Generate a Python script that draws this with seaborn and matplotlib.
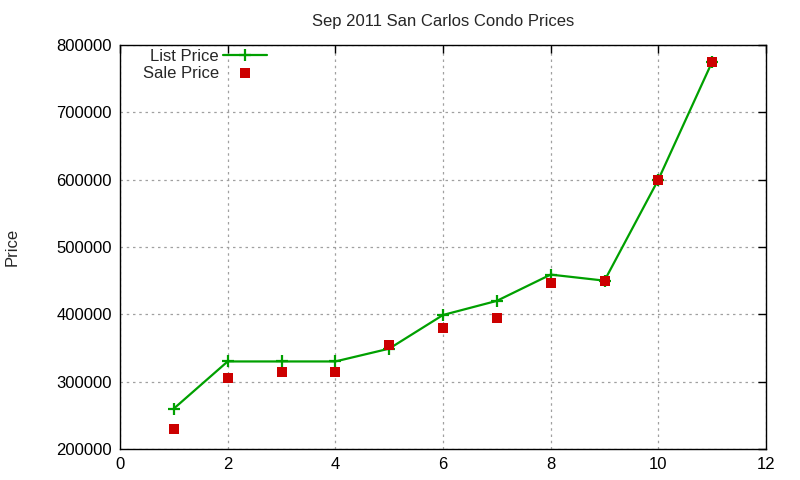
import numpy as np
import pandas as pd
import matplotlib
matplotlib.use("Agg")
import matplotlib.pyplot as plt
import seaborn as sns

# Data
units = [1, 2, 3, 4, 5, 6, 7, 8, 9, 10, 11]
list_price = [260000, 330000, 330000, 330000, 349000, 399000, 420000, 459000, 450000, 600000, 775000]
sale_price = [230000, 306000, 315000, 315000, 355000, 380000, 395000, 447000, 450000, 600000, 775000]

df = pd.DataFrame({"n": units, "list": list_price, "sale": sale_price})

sns.set_style("white")
plt.rcParams["font.family"] = ["Liberation Sans", "DejaVu Sans"]

fig = plt.figure(figsize=(8, 4.8), dpi=100)
ax = fig.add_axes([0.15, 0.0646, 0.8075, 0.8417])

green = "#00a000"
sns.lineplot(data=df, x="n", y="list", ax=ax, color=green, linewidth=1.6,
             marker="+", markersize=9, markeredgewidth=1.6,
             markeredgecolor=green, label="List Price")
sns.scatterplot(data=df, x="n", y="sale", ax=ax, color="#cc0000", marker="s",
                s=45, linewidth=0, label="Sale Price", zorder=3)

ax.set_xlim(0, 12)
ax.set_ylim(200000, 800000)
ax.set_xticks(np.arange(0, 13, 2))
ax.set_yticks(np.arange(200000, 800001, 100000))
ax.ticklabel_format(style="plain", axis="y")

ax.grid(True, color="#a0a0a0", linestyle=(0, (2, 3)), linewidth=0.9)
ax.tick_params(direction="in", top=True, right=True, length=6, width=1,
               labelsize=12, colors="black", pad=6)
for s in ax.spines.values():
    s.set_color("black")
    s.set_linewidth(1)

ax.set_xlabel("")
ax.set_ylabel("Price", fontsize=12)
ax.yaxis.set_label_coords(-0.155, 0.5)
ax.set_title("Sep 2011 San Carlos Condo Prices", fontsize=12, pad=14)

leg = ax.legend(loc="upper left", bbox_to_anchor=(0.02, 1.015), frameon=False,
                markerfirst=False, fontsize=12, handlelength=2.6,
                borderaxespad=0.2, labelspacing=0.1, handletextpad=0.25)
for t in leg.get_texts():
    t.set_ha("right")
leg._legend_box.align = "right"

fig.savefig("out.png", dpi=100)
